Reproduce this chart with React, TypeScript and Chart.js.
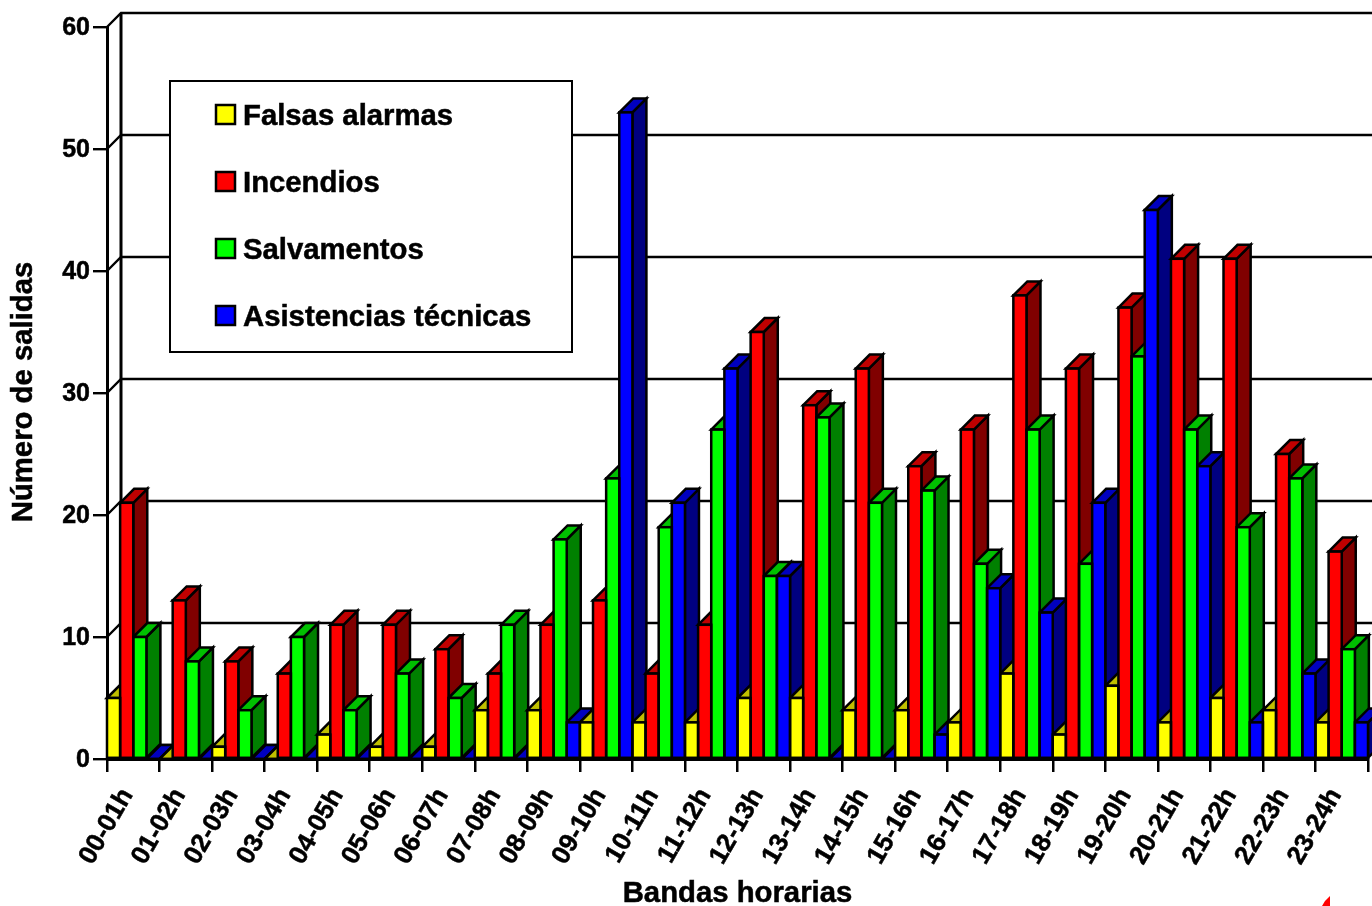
import React, { useEffect, useRef } from "react";
import { Chart, registerables } from "chart.js";

Chart.register(...registerables);

const categories = ["00-01h","01-02h","02-03h","03-04h","04-05h","05-06h","06-07h","07-08h","08-09h","09-10h","10-11h","11-12h","12-13h","13-14h","14-15h","15-16h","16-17h","17-18h","18-19h","19-20h","20-21h","21-22h","22-23h","23-24h"];
const falsasAlarmas = [5,0,1,0,2,1,1,4,4,3,3,3,5,5,4,4,3,7,2,6,3,5,4,3];
const incendios = [21,13,8,7,11,11,9,7,11,13,7,11,35,29,32,24,27,38,32,37,41,41,25,17];
const salvamentos = [10,8,4,10,4,7,5,11,18,23,19,27,15,28,21,22,16,27,16,33,27,19,23,9];
const asistencias = [0,0,0,0,0,0,0,0,3,53,21,32,15,0,0,2,14,12,21,45,24,3,7,3];

const seriesNames = ["Falsas alarmas","Incendios","Salvamentos","Asistencias técnicas"];
const frontColors = ["#FFFF00","#FF0000","#00FF00","#0000FF"];
const topColors = ["#C0C000","#C00000","#00C000","#0000C0"];
const sideColors = ["#808000","#800000","#008000","#000080"];
const yTicks = [0,10,20,30,40,50,60];
const xTitle = "Bandas horarias";
const yTitle = "Número de salidas";

const DEPTH = 14;
const FONT = "'Liberation Sans', Arial, sans-serif";
const TITLE_FONT = `bold 29.3px ${FONT}`;

const wall3d = {
  id: "wall3d",
  beforeDatasetsDraw(chart: any) {
    const { ctx, scales, chartArea, width } = chart;
    const y = scales.y;
    ctx.save();
    ctx.strokeStyle = "#000";
    ctx.lineWidth = 2.4;
    for (const t of yTicks) {
      const py = y.getPixelForValue(t);
      ctx.beginPath();
      ctx.moveTo(chartArea.left, py);
      ctx.lineTo(chartArea.left + DEPTH, py - DEPTH);
      ctx.lineTo(width, py - DEPTH);
      ctx.stroke();
    }
    ctx.lineWidth = 3;
    ctx.beginPath();
    ctx.moveTo(chartArea.left + DEPTH, y.getPixelForValue(0) - DEPTH);
    ctx.lineTo(chartArea.left + DEPTH, y.getPixelForValue(60) - DEPTH);
    ctx.stroke();

    ctx.lineWidth = 2.5;
    ctx.lineJoin = "miter";
    categories.forEach((_, i) => {
      chart.data.datasets.forEach((ds: any, d: number) => {
        const el = chart.getDatasetMeta(d).data[i];
        const { x, y: top, base, width: w } = el.getProps(["x", "y", "base", "width"], true);
        const l = x - w / 2;
        const r = x + w / 2;
        ctx.fillStyle = sideColors[d];
        ctx.beginPath();
        ctx.moveTo(r, top);
        ctx.lineTo(r + DEPTH, top - DEPTH);
        ctx.lineTo(r + DEPTH, base - DEPTH);
        ctx.lineTo(r, base);
        ctx.closePath();
        ctx.fill();
        ctx.stroke();
        ctx.fillStyle = topColors[d];
        ctx.beginPath();
        ctx.moveTo(l, top);
        ctx.lineTo(l + DEPTH, top - DEPTH);
        ctx.lineTo(r + DEPTH, top - DEPTH);
        ctx.lineTo(r, top);
        ctx.closePath();
        ctx.fill();
        ctx.stroke();
      });
    });
    ctx.restore();
  },
  afterDatasetsDraw(chart: any) {
    const { ctx } = chart;
    ctx.save();
    ctx.strokeStyle = "#000";
    ctx.lineWidth = 2.5;
    chart.data.datasets.forEach((ds: any, d: number) => {
      chart.getDatasetMeta(d).data.forEach((el: any) => {
        const { x, y: top, base, width: w } = el.getProps(["x", "y", "base", "width"], true);
        ctx.strokeRect(x - w / 2, top, w, base - top);
      });
    });
    ctx.restore();
  },
  afterDraw(chart: any) {
    const { ctx, chartArea } = chart;
    ctx.save();
    ctx.fillStyle = "#fff";
    ctx.strokeStyle = "#000";
    ctx.lineWidth = 2;
    ctx.fillRect(170, 81, 402, 271);
    ctx.strokeRect(170, 81, 402, 271);
    ctx.font = TITLE_FONT;
    ctx.textBaseline = "middle";
    ctx.textAlign = "left";
    chart.data.datasets.forEach((ds: any, d: number) => {
      const cy = 115 + d * 67;
      ctx.lineWidth = 2.5;
      ctx.strokeStyle = "#000";
      ctx.fillStyle = frontColors[d];
      ctx.fillRect(216, cy - 10, 19, 19);
      ctx.strokeRect(216, cy - 10, 19, 19);
      ctx.fillStyle = "#000";
      ctx.lineWidth = 0.5;
      ctx.fillText(ds.label, 243, cy + 1.5);
      ctx.strokeText(ds.label, 243, cy + 1.5);
    });

    ctx.textAlign = "center";
    ctx.lineWidth = 0.5;
    ctx.fillStyle = "#000";
    ctx.fillText(xTitle, (chartArea.left + chartArea.right) / 2, 893.5);
    ctx.strokeText(xTitle, (chartArea.left + chartArea.right) / 2, 893.5);
    ctx.translate(24, (chartArea.top + chartArea.bottom) / 2 - 1);
    ctx.rotate(-Math.PI / 2);
    ctx.fillText(yTitle, 0, 0);
    ctx.strokeText(yTitle, 0, 0);
    ctx.setTransform(1, 0, 0, 1, 0, 0);

    // fragment of the logo cut by the page's lower right corner
    ctx.fillStyle = "#FF0000";
    ctx.beginPath();
    ctx.moveTo(1330, 896);
    ctx.lineTo(1330, 906);
    ctx.lineTo(1322, 906);
    ctx.lineTo(1325, 901);
    ctx.closePath();
    ctx.fill();
    ctx.restore();
  },
};

export default function App() {
  const ref = useRef<HTMLCanvasElement>(null);
  useEffect(() => {
    const values = [falsasAlarmas, incendios, salvamentos, asistencias];
    const chart = new Chart(ref.current as HTMLCanvasElement, {
      type: "bar",
      data: {
        labels: categories,
        datasets: seriesNames.map((label, d) => ({
          label,
          data: values[d],
          backgroundColor: frontColors[d],
          borderWidth: 0,
          barPercentage: 1,
          categoryPercentage: 1,
        })),
      },
      options: {
        animation: false,
        responsive: false,
        events: [],
        layout: { padding: { left: 0, right: 4, top: 27, bottom: 0 } },
        plugins: { legend: { display: false }, tooltip: { enabled: false }, title: { display: false } },
        scales: {
          x: {
            afterFit(s: any) {
              s.height = 147;
              s.paddingLeft = 0;
              s.paddingRight = 0;
            },
            grid: { display: true, drawOnChartArea: false, drawTicks: true, tickLength: 13, color: "#000", lineWidth: 2.5, offset: true },
            border: { display: true, color: "#000", width: 3, z: 1 },
            ticks: {
              autoSkip: false, minRotation: 60, maxRotation: 60, padding: 11, labelOffset: -6, color: "#000",
              textStrokeColor: "#000", textStrokeWidth: 0.5,
              font: { family: FONT, size: 26, weight: "bold" },
            },
          },
          y: {
            min: 0, max: 60,
            afterFit(s: any) {
              s.width = 107;
              s.paddingTop = 0;
              s.paddingBottom = 0;
            },
            grid: { display: true, drawOnChartArea: false, drawTicks: true, tickLength: 14, color: "#000", lineWidth: 2.4 },
            border: { display: true, color: "#000", width: 3 },
            ticks: {
              stepSize: 10, padding: 3, labelOffset: 1, color: "#000",
              textStrokeColor: "#000", textStrokeWidth: 0.5,
              font: { family: FONT, size: 25, weight: "bold" },
            },
          },
        },
      } as any,
      plugins: [wall3d],
    });
    return () => chart.destroy();
  }, []);
  return (
    <canvas
      ref={ref}
      width={1372}
      height={906}
      style={{ position: "absolute", left: 0, top: 0, display: "block" }}
    />
  );
}
